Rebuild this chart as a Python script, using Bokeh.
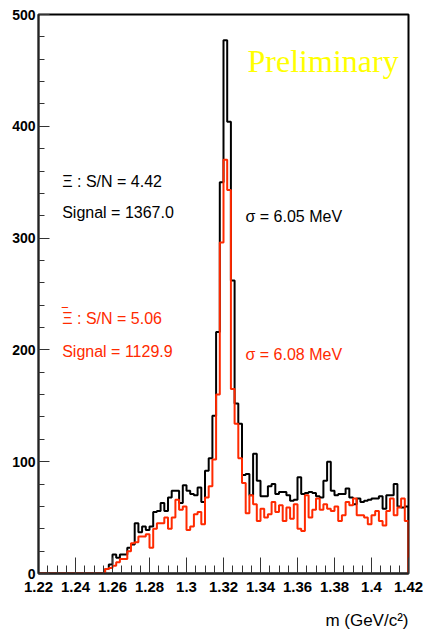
import numpy as np
from bokeh.plotting import figure
from bokeh.models import Range1d, FixedTicker, Label, Title
from bokeh.embed import file_html
from bokeh.resources import INLINE

# ---- data ----
x_lo, x_hi, n_bins = 1.22, 1.42, 100
xi_counts = [0]*18 + [
    4, 8, 17, 14, 17, 17, 23, 26, 45, 37,
    42, 39, 42, 55, 56, 63, 56, 68, 74, 74,
    63, 79, 74, 71, 70, 77, 64, 92, 103, 141,
    216, 350, 477, 404, 262, 152, 134, 88, 89, 70,
    107, 83, 69, 69, 78, 80, 71, 73, 73, 70,
    65, 66, 86, 71, 72, 73, 72, 69, 68, 83,
    100, 74, 70, 71, 71, 76, 68, 62, 67, 64,
    65, 66, 67, 67, 69, 58, 70, 70, 80, 60,
    59, 60]
axi_counts = [0]*18 + [
    4, 5, 7, 10, 13, 13, 20, 27, 28, 33,
    33, 35, 23, 40, 45, 45, 50, 40, 50, 66,
    57, 60, 39, 42, 53, 55, 44, 68, 78, 102,
    160, 296, 370, 343, 165, 134, 103, 81, 54, 70,
    62, 47, 58, 50, 53, 64, 55, 61, 47, 59,
    49, 62, 40, 38, 70, 50, 57, 67, 57, 62,
    58, 56, 60, 47, 52, 64, 61, 67, 52, 52,
    50, 44, 52, 56, 47, 43, 56, 67, 52, 59,
    67, 47]
x_tick_values = [1.22, 1.24, 1.26, 1.28, 1.30, 1.32, 1.34, 1.36, 1.38, 1.40, 1.42]
x_tick_labels = ["1.22", "1.24", "1.26", "1.28", "1.3", "1.32", "1.34", "1.36", "1.38", "1.4", "1.42"]
y_tick_values = [0, 100, 200, 300, 400, 500]
y_tick_labels = ["0", "100", "200", "300", "400", "500"]

xi_texts = ["\u039e : S/N = 4.42", "Signal = 1367.0", "\u03c3 = 6.05 MeV"]
axi_texts = ["\u039e : S/N = 5.06", "Signal = 1129.9", "\u03c3 = 6.08 MeV"]
x_title = "m (GeV/c\u00b2)"

edges = np.linspace(x_lo, x_hi, n_bins + 1)
RED = "#ff2a00"
FONT = "Liberation Sans"

p = figure(width=423, height=644, output_backend="svg", toolbar_location=None,
           x_range=Range1d(x_lo, x_hi), y_range=Range1d(0, 500),
           min_border_left=38, min_border_right=15, min_border_top=14, min_border_bottom=71)
p.grid.visible = False
p.background_fill_color = "white"
p.border_fill_color = "white"
p.outline_line_color = "black"
p.outline_line_width = 2

xa = p.xaxis[0]
xa.ticker = FixedTicker(ticks=x_tick_values,
                        minor_ticks=list(np.round(np.arange(x_lo, x_hi + 1e-9, 0.005), 3)))
xa.major_label_overrides = {v: s for v, s in zip(x_tick_values, x_tick_labels)}
xa.major_tick_in = 16
xa.major_tick_out = 0
xa.minor_tick_in = 8
xa.minor_tick_out = 0
xa.major_label_standoff = 8
xa.axis_line_width = 2
xa.axis_line_color = "#222222"
xa.major_tick_line_color = "#333333"
xa.minor_tick_line_color = "#333333"
xa.major_label_text_font = FONT
xa.major_label_text_font_style = "bold"
xa.major_label_text_font_size = "15px"
xa.major_label_text_color = "black"

use_axis_label = True
try:
    xa.axis_label_align = "right"
except Exception:
    use_axis_label = False

if use_axis_label:
    xa.axis_label = x_title
    xa.axis_label_standoff = 25
    xa.axis_label_text_font = FONT
    xa.axis_label_text_font_size = "17px"
    xa.axis_label_text_font_style = "normal"
    xa.axis_label_text_color = "black"
else:
    p.add_layout(Title(text=x_title, align="right", text_font=FONT, text_font_size="17px",
                       text_font_style="normal", text_color="black", standoff=29), "below")

ya = p.yaxis[0]
ya.ticker = FixedTicker(ticks=y_tick_values, minor_ticks=list(range(0, 501, 20)))
ya.major_label_overrides = {v: s for v, s in zip(y_tick_values, y_tick_labels)}
ya.major_tick_in = 11
ya.major_tick_out = 0
ya.minor_tick_in = 6
ya.minor_tick_out = 0
ya.major_label_standoff = 3
ya.axis_line_width = 1.5
ya.axis_line_color = "#222222"
ya.major_tick_line_color = "#333333"
ya.minor_tick_line_color = "#333333"
ya.major_label_text_font = FONT
ya.major_label_text_font_style = "bold"
ya.major_label_text_font_size = "14px"
ya.major_label_text_color = "black"

p.step(edges, xi_counts + [0], mode="after", line_color="black", line_width=2)
p.step(edges, axi_counts + [0], mode="after", line_color=RED, line_width=2)

def lab(x, y, text, color, size="16px", font=FONT):
    p.add_layout(Label(x=x, y=y, text=text, text_color=color, text_font=font,
                       text_font_size=size, text_align="left", text_baseline="alphabetic"))

lab(1.2328, 351, xi_texts[0], "black")
lab(1.2328, 322.5, xi_texts[1], "black")
lab(1.3319, 319, xi_texts[2], "black")
lab(1.2328, 228, axi_texts[0], RED)
lab(1.2328, 231.5, "\u203e", RED, size="16px")   # bar over the anti-Xi
lab(1.2328, 199, axi_texts[1], RED)
lab(1.3319, 196, axi_texts[2], RED)
lab(1.3330, 458, "Preliminary", "#ffff00", size="32px", font="Liberation Serif")

open("out.html", "w").write(file_html(p, INLINE))
